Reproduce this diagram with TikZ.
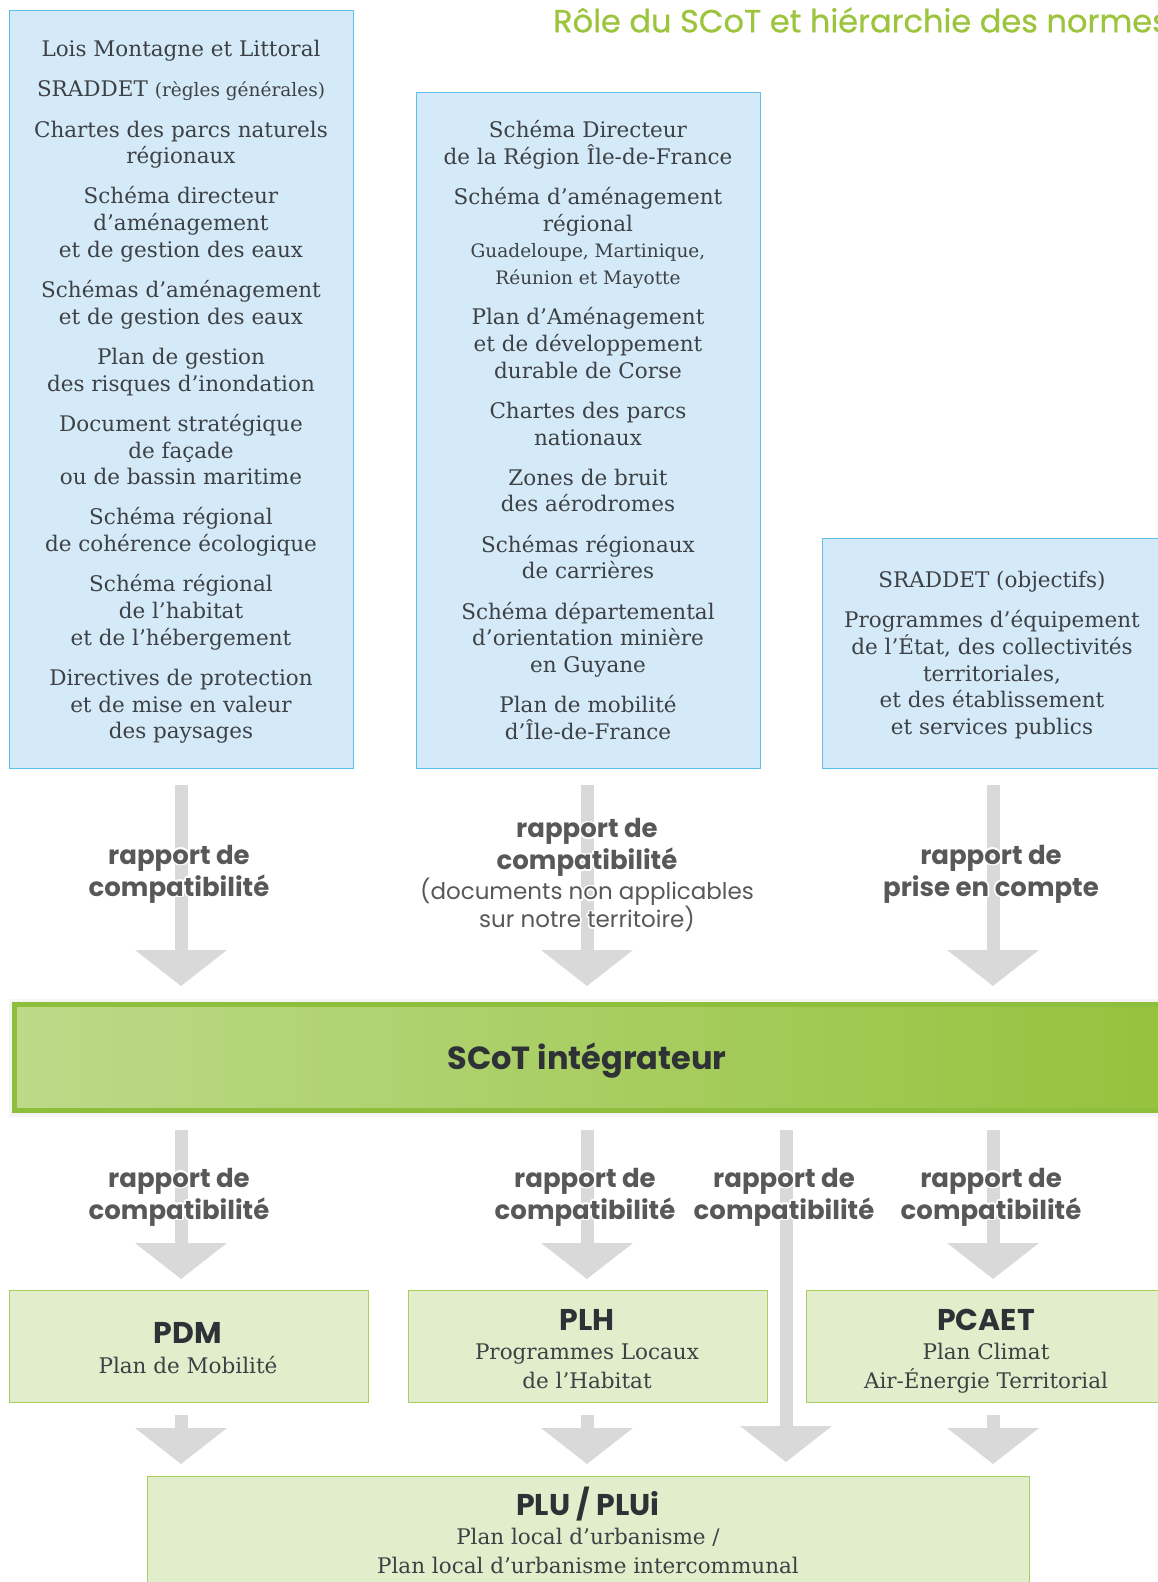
\documentclass[tikz,border=0pt]{standalone}
\usepackage{fontspec}
\setmainfont{DejaVu Serif}
\newfontfamily\mont{Poppins}
\newfontfamily\montmed[FakeBold=0.6]{Poppins}
\usepackage{contour}
\contourlength{1.6pt}
\usetikzlibrary{arrows.meta, positioning, calc}

\definecolor{bluefill}{HTML}{D5EAF8}
\definecolor{blueline}{HTML}{5CC0EB}
\definecolor{greenfill}{HTML}{E2EDCB}
\definecolor{greenline}{HTML}{A6CF5E}
\definecolor{arrowgray}{HTML}{D9D9D9}
\definecolor{labelgray}{HTML}{58585A}
\definecolor{textdark}{HTML}{3D4145}
\definecolor{headdark}{HTML}{2E3236}
\definecolor{titlegreen}{HTML}{9CC43C}
\definecolor{barline}{HTML}{8DBE3C}
\definecolor{barlight}{HTML}{C9E0A0}
\definecolor{bardark}{HTML}{95C33E}

\pgfdeclarehorizontalshading{scotshade}{100bp}{color(0bp)=(barlight); color(10bp)=(barlight); color(74bp)=(bardark); color(100bp)=(bardark)}

\newcommand{\halo}[1]{\contour{white}{#1}}
\newcommand{\smallser}{\fontsize{18.5}{26.7}\selectfont}
\newcommand{\regmont}{\mont\mdseries\fontsize{23}{28}\selectfont}
\newcommand{\headfont}{\mont\bfseries\fontsize{30}{30}\selectfont\color{headdark}}
\def\gap{13.5pt}

\tikzset{
  bluebox/.style={draw=blueline, fill=bluefill, line width=1.4pt, anchor=north west},
  greenbox/.style={draw=greenline, fill=greenfill, line width=1.4pt, anchor=north west},
  boxtext/.style={align=center, text=textdark, font=\fontsize{21.5}{26.7}\selectfont, inner sep=0pt},
  lowtext/.style={boxtext, font=\fontsize{21.5}{28.5}\selectfont},
  relabel/.style={align=center, text=labelgray, font=\mont\bfseries\fontsize{26}{32}\selectfont, inner sep=0pt},
  bigarrow/.style={draw=arrowgray, line width=13pt, -{Triangle[width=90pt,length=36pt]}},
}

\begin{document}
\begin{tikzpicture}[x=1pt, y=-1pt]
  \useasboundingbox (0,0) rectangle (1157,1582);
  \fill[white] (0,0) rectangle (1157,1582);
  % Title (runs off the right edge)
  \node[anchor=west, text=titlegreen, font=\montmed\fontsize{32}{32}\selectfont, inner sep=0pt]
    (titre) at (553,20) {Rôle du SCoT et hiérarchie des normes};
  % Upper documents
  \node[bluebox, minimum width=344pt, minimum height=758pt] (compatA) at (9,10) {};
  \node[bluebox, minimum width=344pt, minimum height=676pt] (compatB) at (416,92) {};
  \node[bluebox, minimum width=350pt, minimum height=230pt] (priseC) at (822,538) {};
  \node[boxtext] (compatAtxt) at (181,392) {Lois Montagne et Littoral\\[\gap]
    SRADDET {\smallser(règles générales)}\\[\gap]
    Chartes des parcs naturels\\régionaux\\[\gap]
    Schéma directeur\\d’aménagement\\et de gestion des eaux\\[\gap]
    Schémas d’aménagement\\et de gestion des eaux\\[\gap]
    Plan de gestion\\des risques d’inondation\\[\gap]
    Document stratégique\\de façade\\ou de bassin maritime\\[\gap]
    Schéma régional\\de cohérence écologique\\[\gap]
    Schéma régional\\de l’habitat\\et de l’hébergement\\[\gap]
    Directives de protection\\et de mise en valeur\\des paysages};
  \node[boxtext] (compatBtxt) at (588,430) {Schéma Directeur\\de la Région Île-de-France\\[\gap]
    Schéma d’aménagement\\régional\\
    {\smallser Guadeloupe, Martinique,}\\{\smallser Réunion et Mayotte}\\[\gap]
    Plan d’Aménagement\\et de développement\\durable de Corse\\[\gap]
    Chartes des parcs\\nationaux\\[\gap]
    Zones de bruit\\des aérodromes\\[\gap]
    Schémas régionaux\\de carrières\\[\gap]
    Schéma départemental\\d’orientation minière\\en Guyane\\[\gap]
    Plan de mobilité\\d’Île-de-France};
  \node[boxtext] (priseCtxt) at (992,655) {SRADDET (objectifs)\\[\gap]
    Programmes d’équipement\\de l’État, des collectivités\\territoriales,\\
    et des établissement\\et services publics};
  % Arrows into the SCoT
  \foreach \cx/\nm in {181/a, 587/b, 993/c} {
    \coordinate (haut\nm) at (\cx,785);
    \coordinate (bas\nm) at (\cx,986);
    \draw[bigarrow] (haut\nm) -- (bas\nm);
  }
  \node[relabel] (rapA) at (179,875) {\halo{rapport de}\\\halo{compatibilité}};
  \node[relabel] (rapB) at (587,876) {\halo{rapport de}\\\halo{compatibilité}\\[-2pt]
    \halo{\regmont(documents non applicables}\\[-4pt]\halo{\regmont sur notre territoire)}};
  \node[relabel] (rapC) at (991,875) {\halo{rapport de}\\\halo{prise en compte}};
  % SCoT bar
  \node[draw=barline, line width=5pt, shading=scotshade, minimum width=1160pt, minimum height=106pt,
    anchor=north west, preaction={draw=black!4, line width=12pt}] (scot) at (12,1002) {};
  \node[text=headdark, font=\mont\bfseries\fontsize{32}{32}\selectfont, inner sep=0pt] (scottxt) at (587,1061)
    {SCoT intégrateur};
  % Arrows out of the SCoT
  \foreach \cx/\nm in {181/a, 587/b, 993/d} {
    \coordinate (scot\nm) at (\cx,1130);
    \coordinate (doc\nm) at (\cx,1279);
    \draw[bigarrow] (scot\nm) -- (doc\nm);
  }
  \coordinate (scotc) at (786,1130);
  \coordinate (pluc) at (786,1462);
  \draw[bigarrow] (scotc) -- (pluc);
  \foreach \cx/\nm in {179/a, 585/b, 784/c, 991/d}
    \node[relabel] (comp\nm) at (\cx,1198) {\halo{rapport de}\\\halo{compatibilité}};
  % Lower documents
  \node[greenbox, minimum width=359pt, minimum height=112pt] (pdm) at (9,1290) {};
  \node[greenbox, minimum width=359pt, minimum height=112pt] (plh) at (408,1290) {};
  \node[greenbox, minimum width=360pt, minimum height=112pt] (pcaet) at (806,1290) {};
  \node[greenbox, minimum width=882pt, minimum height=120pt] (plu) at (147,1476) {};
  \node[lowtext] (pdmtxt) at (188,1348) {{\headfont PDM}\\[1pt]Plan de Mobilité};
  \node[lowtext] (plhtxt) at (587,1349) {{\headfont PLH}\\[1pt]Programmes Locaux\\de l’Habitat};
  \node[lowtext] (pcaettxt) at (986,1351) {{\headfont PCAET}\\[1pt]Plan Climat\\Air-Énergie Territorial};
  \node[lowtext] (plutxt) at (588,1530) {{\headfont PLU / PLUi}\\[1pt]Plan local d’urbanisme /\\
    Plan local d’urbanisme intercommunal};
  % Arrows into the PLU
  \foreach \cx/\nm in {181/a, 587/b, 993/d} {
    \coordinate (sous\nm) at (\cx,1415);
    \coordinate (plu\nm) at (\cx,1464);
    \draw[bigarrow] (sous\nm) -- (plu\nm);
  }
\end{tikzpicture}
\end{document}
